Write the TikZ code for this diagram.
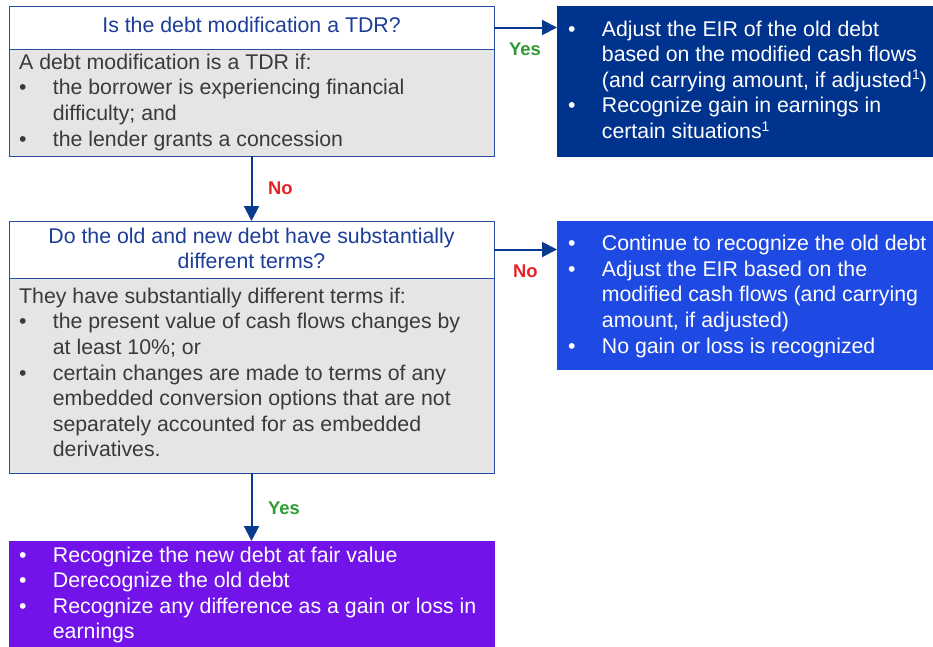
\documentclass[tikz,border=0pt]{standalone}
\usepackage{fontspec}
\setmainfont{Liberation Sans}
\usetikzlibrary{arrows.meta}

\definecolor{kdark}{HTML}{00338D}
\definecolor{kcobalt}{HTML}{1E49E2}
\definecolor{kpurple}{HTML}{7213EA}
\definecolor{kgrey}{HTML}{E5E5E5}
\definecolor{kline}{HTML}{2A4C9E}
\definecolor{ktext}{HTML}{3A3A3A}
\definecolor{khead}{HTML}{1C3D98}
\definecolor{kgreen}{HTML}{2E9B32}
\definecolor{kred}{HTML}{E52228}
\definecolor{karrow}{HTML}{0A3A8F}

\newcommand\bodyfont{\fontsize{21.3}{25.6}\selectfont}
\newcommand\headfont{\fontsize{21.3}{25}\selectfont}
\newcommand\supone{\smash{\raisebox{7.3pt}{\fontsize{14}{14}\selectfont 1}}}
\newcommand\bul{\textbullet}
\newenvironment{bullets}{\begin{tabular}[t]{@{}p{33.7pt}@{}l@{}}}{\end{tabular}}

\begin{document}
\begin{tikzpicture}[x=1pt,y=-1pt,
  panel/.style={anchor=north west, inner sep=0pt, outer sep=0pt, minimum width=485pt},
  headbox/.style={panel, draw=kline, line width=1pt, fill=white},
  bodybox/.style={panel, draw=kline, line width=1pt, fill=kgrey},
  resultbox/.style={anchor=north west, inner sep=0pt, outer sep=0pt},
  bodytext/.style={anchor=base west, inner sep=0pt, text=ktext, font=\bodyfont},
  whitetext/.style={anchor=base west, inner sep=0pt, text=white, font=\bodyfont},
  headtext/.style={anchor=base, inner sep=0pt, text=khead, font=\headfont},
  flow/.style={draw=karrow, line width=2pt, -{Triangle[length=15pt,width=15pt]}},
  yeslabel/.style={anchor=base west, inner sep=0pt, text=kgreen, font=\fontsize{18.4}{20}\selectfont\bfseries},
  nolabel/.style={anchor=base west, inner sep=0pt, text=kred, font=\fontsize{18.4}{20}\selectfont\bfseries},
]
\useasboundingbox (0,0) rectangle (933,646);

% first question: header and criteria
\node[headbox, minimum height=43pt] (h1) at (9,6) {};
\node[bodybox, minimum height=107pt] (b1) at (9,49) {};
% outcome when it is a TDR
\node[resultbox, fill=kdark, minimum width=376pt, minimum height=151pt] (r1) at (557,6) {};

% second question: header and criteria
\node[headbox, minimum height=57pt] (h2) at (9,221) {};
\node[bodybox, minimum height=195pt] (b2) at (9,278) {};
% outcome when terms are not substantially different
\node[resultbox, fill=kcobalt, minimum width=376pt, minimum height=149pt] (r2) at (557,221) {};

% outcome when terms are substantially different
\node[resultbox, fill=kpurple, minimum width=486pt, minimum height=106pt] (r3) at (8.5,541) {};

% texts
\node[headtext] (t1h) at (251.5,32.3) {Is the debt modification a TDR?};
\node[bodytext] (t1b) at (19,69.3) {\begin{bullets}
\multicolumn{2}{@{}l@{}}{A debt modification is a TDR if:}\\
\bul & the borrower is experiencing financial\\
     & difficulty; and\\
\bul & the lender grants a concession
\end{bullets}};

\node[whitetext] (t1r) at (568,36) {\begin{bullets}
\bul & Adjust the EIR of the old debt\\
     & based on the modified cash flows\\
     & (and carrying amount, if adjusted\supone)\\
\bul & Recognize gain in earnings in\\
     & certain situations\supone
\end{bullets}};

\node[headtext] (t2h) at (251.5,243.3) {\begin{tabular}[t]{@{}c@{}}
Do the old and new debt have substantially\\
different terms?
\end{tabular}};
\node[bodytext] (t2b) at (19,303.3) {\begin{bullets}
\multicolumn{2}{@{}l@{}}{They have substantially different terms if:}\\
\bul & the present value of cash flows changes by\\
     & at least 10\%; or\\
\bul & certain changes are made to terms of any\\
     & embedded conversion options that are not\\
     & separately accounted for as embedded\\
     & derivatives.
\end{bullets}};

\node[whitetext] (t2r) at (568,250.7) {\begin{bullets}
\bul & Continue to recognize the old debt\\
\bul & Adjust the EIR based on the\\
     & modified cash flows (and carrying\\
     & amount, if adjusted)\\
\bul & No gain or loss is recognized
\end{bullets}};

\node[whitetext] (t3) at (19,562) {\begin{bullets}
\bul & Recognize the new debt at fair value\\
\bul & Derecognize the old debt\\
\bul & Recognize any difference as a gain or loss in\\
     & earnings
\end{bullets}};

% connectors
\draw[flow] (h1.east) -- (h1.east -| r1.west);
\draw[flow] (b1.south) -- (h2.north);
\draw[flow] (h2.east) -- (h2.east -| r2.west);
\draw[flow] (b2.south) -- (r3.north -| b2.south);

% branch labels
\node[yeslabel] (y1) at (509,55) {Yes};
\node[nolabel] (n1) at (268,194.5) {No};
\node[nolabel] (n2) at (513,277.7) {No};
\node[yeslabel] (y2) at (268,514) {Yes};
\end{tikzpicture}
\end{document}
